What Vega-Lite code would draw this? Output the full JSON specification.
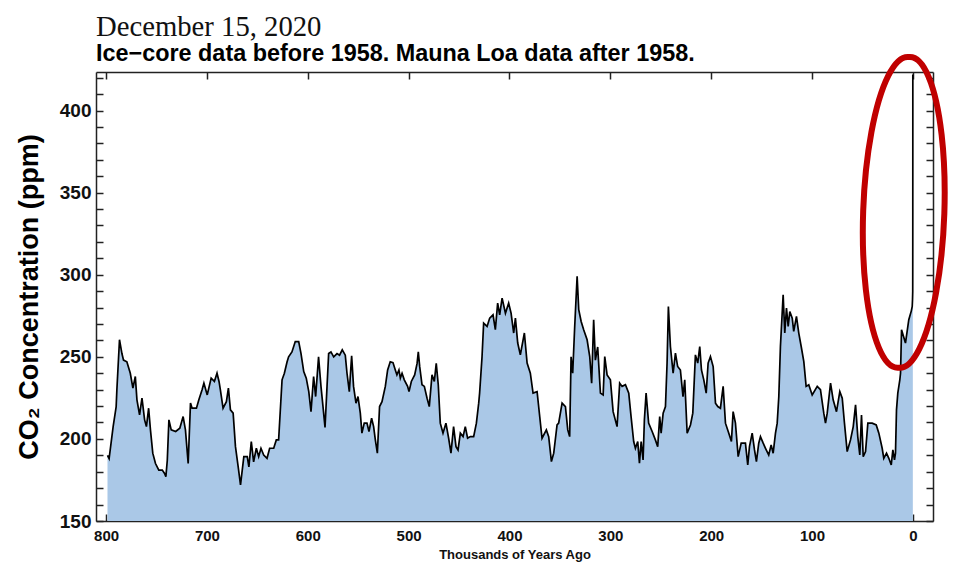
{
  "$schema": "https://vega.github.io/schema/vega-lite/v6.json",
  "width": 837,
  "height": 449,
  "autosize": "none",
  "padding": {"left": 96, "top": 72, "right": 22, "bottom": 46},
  "background": "white",
  "config": {"view": {"stroke": null}, "axis": {"grid": false}},
  "title": {
    "text": "December 15, 2020",
    "subtitle": "Ice−core data before 1958. Mauna Loa data after 1958.",
    "anchor": "start",
    "frame": "group",
    "font": "Liberation Serif",
    "fontSize": 28.7,
    "fontWeight": "normal",
    "color": "#111111",
    "subtitleFont": "Liberation Sans",
    "subtitleFontSize": 23.4,
    "subtitleFontWeight": "bold",
    "subtitleColor": "#000000",
    "subtitlePadding": 1,
    "offset": -20
  },
  "data": {"values": [
    {"kyr": 798.6, "co2": 190}, {"kyr": 797, "co2": 188}, {"kyr": 793, "co2": 207.5}, {"kyr": 790, "co2": 219.7}, {"kyr": 789.3, "co2": 230}, {"kyr": 786.7, "co2": 260.4}, {"kyr": 784.3, "co2": 252}, {"kyr": 782.7, "co2": 248}, {"kyr": 779.4, "co2": 247}, {"kyr": 776, "co2": 240}, {"kyr": 773.4, "co2": 231}, {"kyr": 771, "co2": 238}, {"kyr": 769.4, "co2": 223.8}, {"kyr": 766.8, "co2": 214.6}, {"kyr": 764.4, "co2": 224.8}, {"kyr": 761.8, "co2": 211.6}, {"kyr": 760, "co2": 207.5}, {"kyr": 757.8, "co2": 218.7}, {"kyr": 756, "co2": 205.5}, {"kyr": 753.7, "co2": 191.3}, {"kyr": 751, "co2": 185}, {"kyr": 747.7, "co2": 181}, {"kyr": 744.3, "co2": 181}, {"kyr": 742, "co2": 179}, {"kyr": 740.7, "co2": 177}, {"kyr": 739.3, "co2": 187}, {"kyr": 737.7, "co2": 211.6}, {"kyr": 735.4, "co2": 205.5}, {"kyr": 731, "co2": 204.5}, {"kyr": 726.9, "co2": 206.5}, {"kyr": 723.6, "co2": 213.6}, {"kyr": 721.3, "co2": 205.5}, {"kyr": 718.6, "co2": 185}, {"kyr": 716.3, "co2": 221.8}, {"kyr": 714.7, "co2": 218.7}, {"kyr": 710.4, "co2": 218.7}, {"kyr": 708, "co2": 223.8}, {"kyr": 704.8, "co2": 230}, {"kyr": 703, "co2": 234}, {"kyr": 699.7, "co2": 226.8}, {"kyr": 695.8, "co2": 237}, {"kyr": 692.6, "co2": 235}, {"kyr": 690, "co2": 240}, {"kyr": 688, "co2": 235}, {"kyr": 686.7, "co2": 230}, {"kyr": 684, "co2": 218.7}, {"kyr": 680.7, "co2": 222.7}, {"kyr": 678.7, "co2": 231}, {"kyr": 676.7, "co2": 217.7}, {"kyr": 674, "co2": 215.7}, {"kyr": 671.7, "co2": 195.3}, {"kyr": 669, "co2": 183}, {"kyr": 666.7, "co2": 172}, {"kyr": 663.4, "co2": 189.2}, {"kyr": 660, "co2": 189.2}, {"kyr": 658.4, "co2": 183}, {"kyr": 656, "co2": 198.4}, {"kyr": 653.7, "co2": 186}, {"kyr": 651, "co2": 194.3}, {"kyr": 648.7, "co2": 189.2}, {"kyr": 646.4, "co2": 194.3}, {"kyr": 643.7, "co2": 190.2}, {"kyr": 640.4, "co2": 188.2}, {"kyr": 637.8, "co2": 194.3}, {"kyr": 633.8, "co2": 194.3}, {"kyr": 631.2, "co2": 199.4}, {"kyr": 628.9, "co2": 199.4}, {"kyr": 625.5, "co2": 236}, {"kyr": 623.2, "co2": 240}, {"kyr": 620.5, "co2": 247},
    {"kyr": 619, "co2": 250}, {"kyr": 615.7, "co2": 253}, {"kyr": 612.4, "co2": 259.3}, {"kyr": 609, "co2": 259.3}, {"kyr": 606.7, "co2": 252}, {"kyr": 604, "co2": 241}, {"kyr": 601.5, "co2": 237}, {"kyr": 599, "co2": 228.8}, {"kyr": 596.8, "co2": 216.6}, {"kyr": 594.2, "co2": 238}, {"kyr": 592.2, "co2": 225.8}, {"kyr": 589.3, "co2": 250}, {"kyr": 586.9, "co2": 232}, {"kyr": 584.9, "co2": 219.7}, {"kyr": 582.9, "co2": 207}, {"kyr": 580.9, "co2": 232}, {"kyr": 579.3, "co2": 252}, {"kyr": 577, "co2": 253}, {"kyr": 574.3, "co2": 250}, {"kyr": 571, "co2": 252}, {"kyr": 568.5, "co2": 251}, {"kyr": 565.8, "co2": 254.3}, {"kyr": 562.8, "co2": 251}, {"kyr": 561.1, "co2": 240}, {"kyr": 558.8, "co2": 228.8}, {"kyr": 556.5, "co2": 250.6}, {"kyr": 554.6, "co2": 232}, {"kyr": 552.2, "co2": 221.8}, {"kyr": 550.2, "co2": 225.8}, {"kyr": 547.9, "co2": 215.7}, {"kyr": 546.3, "co2": 203.5}, {"kyr": 544, "co2": 209.6}, {"kyr": 541.3, "co2": 209.6}, {"kyr": 539.3, "co2": 204.5}, {"kyr": 536.7, "co2": 212.6}, {"kyr": 534.7, "co2": 207.5}, {"kyr": 533, "co2": 199.4}, {"kyr": 531, "co2": 191.3}, {"kyr": 528.8, "co2": 219.7}, {"kyr": 526.4, "co2": 222.7}, {"kyr": 523.1, "co2": 232}, {"kyr": 520.8, "co2": 242}, {"kyr": 518.2, "co2": 247}, {"kyr": 515.5, "co2": 246.5}, {"kyr": 513.2, "co2": 242}, {"kyr": 511.6, "co2": 239}, {"kyr": 509.6, "co2": 242}, {"kyr": 508.2, "co2": 237}, {"kyr": 506.5, "co2": 240}, {"kyr": 504.3, "co2": 236}, {"kyr": 501, "co2": 232}, {"kyr": 499.6, "co2": 228.8}, {"kyr": 497.3, "co2": 235}, {"kyr": 494, "co2": 239}, {"kyr": 491.6, "co2": 246}, {"kyr": 490.4, "co2": 253}, {"kyr": 489, "co2": 244}, {"kyr": 486.7, "co2": 233}, {"kyr": 484.4, "co2": 232}, {"kyr": 481.7, "co2": 224.8}, {"kyr": 479.5, "co2": 219.7}, {"kyr": 476.8, "co2": 239}, {"kyr": 474.5, "co2": 235}, {"kyr": 472.6, "co2": 246}, {"kyr": 470.6, "co2": 233}, {"kyr": 468.6, "co2": 209.6}, {"kyr": 465.9, "co2": 203.5}, {"kyr": 463, "co2": 209.6}, {"kyr": 460.3, "co2": 200.4}, {"kyr": 458, "co2": 191.3}, {"kyr": 455.4, "co2": 207.5}, {"kyr": 453, "co2": 195.3}, {"kyr": 451, "co2": 193.3}, {"kyr": 448.7, "co2": 203.5}, {"kyr": 446, "co2": 201.4}, {"kyr": 443.8, "co2": 207.5}, {"kyr": 441.5, "co2": 200.4}, {"kyr": 438.8, "co2": 201.4}, {"kyr": 435.5, "co2": 201.4}, {"kyr": 432.8, "co2": 209.6},
    {"kyr": 430.5, "co2": 221.8}, {"kyr": 429.6, "co2": 227.9}, {"kyr": 427.2, "co2": 250}, {"kyr": 425.6, "co2": 270.5}, {"kyr": 422.2, "co2": 268.5}, {"kyr": 419.6, "co2": 273.6}, {"kyr": 416.3, "co2": 275.6}, {"kyr": 414, "co2": 266.5}, {"kyr": 411.7, "co2": 282.7}, {"kyr": 409.7, "co2": 275.6}, {"kyr": 407.3, "co2": 285.8}, {"kyr": 404, "co2": 276.6}, {"kyr": 400.8, "co2": 282.7}, {"kyr": 398.4, "co2": 276.6}, {"kyr": 395.8, "co2": 264.5}, {"kyr": 394.1, "co2": 273.6}, {"kyr": 391.8, "co2": 258.4}, {"kyr": 389.2, "co2": 251.2}, {"kyr": 385.2, "co2": 264.5}, {"kyr": 382.5, "co2": 246.2}, {"kyr": 379.3, "co2": 240}, {"kyr": 376.6, "co2": 227.9}, {"kyr": 372.6, "co2": 228.8}, {"kyr": 367.7, "co2": 200.4}, {"kyr": 363.4, "co2": 205.5}, {"kyr": 361.1, "co2": 201.4}, {"kyr": 358.4, "co2": 186.2}, {"kyr": 356.1, "co2": 191.3}, {"kyr": 352.8, "co2": 208.5}, {"kyr": 351.2, "co2": 209.6}, {"kyr": 347.8, "co2": 221.8}, {"kyr": 344.5, "co2": 219.7}, {"kyr": 342.2, "co2": 205.5}, {"kyr": 340.3, "co2": 201.4}, {"kyr": 338.9, "co2": 250}, {"kyr": 337.3, "co2": 240}, {"kyr": 335.3, "co2": 268.5}, {"kyr": 332.9, "co2": 299}, {"kyr": 331.3, "co2": 278.7}, {"kyr": 328.9, "co2": 271.5}, {"kyr": 326.4, "co2": 266.5}, {"kyr": 323, "co2": 260.4}, {"kyr": 320.4, "co2": 250.2}, {"kyr": 318.5, "co2": 234}, {"kyr": 316.5, "co2": 272.6}, {"kyr": 314.8, "co2": 248}, {"kyr": 312.5, "co2": 256}, {"kyr": 309.8, "co2": 227.9}, {"kyr": 307.1, "co2": 226.8}, {"kyr": 305.5, "co2": 250.2}, {"kyr": 303.2, "co2": 239}, {"kyr": 299.9, "co2": 236}, {"kyr": 297.2, "co2": 216.6}, {"kyr": 293.3, "co2": 207.5}, {"kyr": 290.7, "co2": 234}, {"kyr": 288.3, "co2": 232}, {"kyr": 285, "co2": 233}, {"kyr": 281.7, "co2": 227.9}, {"kyr": 279.4, "co2": 213.6}, {"kyr": 276.8, "co2": 198.4}, {"kyr": 275.1, "co2": 194.3}, {"kyr": 272.8, "co2": 198.4}, {"kyr": 271.1, "co2": 185.2}, {"kyr": 269.4, "co2": 198.4}, {"kyr": 267.5, "co2": 187.2}, {"kyr": 266.2, "co2": 211.6}, {"kyr": 264.5, "co2": 227.9}, {"kyr": 262, "co2": 209.6}, {"kyr": 258.5, "co2": 204.5}, {"kyr": 255.3, "co2": 199.4}, {"kyr": 253, "co2": 195.3}, {"kyr": 251, "co2": 213.6}, {"kyr": 249.6, "co2": 203.5}, {"kyr": 247.6, "co2": 215.7}, {"kyr": 245.3, "co2": 219.7}, {"kyr": 243.7, "co2": 246.2}, {"kyr": 242.4, "co2": 280.7}, {"kyr": 240.4, "co2": 256.3}, {"kyr": 237.7, "co2": 240}, {"kyr": 235.4, "co2": 252.3}, {"kyr": 233.2, "co2": 244.1}, {"kyr": 230.5, "co2": 242}, {"kyr": 227.9, "co2": 225.8}, {"kyr": 226.2, "co2": 236}, {"kyr": 223.8, "co2": 203.5}, {"kyr": 220.5, "co2": 208.5}, {"kyr": 218.2, "co2": 215.7}, {"kyr": 215.6, "co2": 251.2}, {"kyr": 213.3, "co2": 246.2}, {"kyr": 211.3, "co2": 256.3}, {"kyr": 209.6, "co2": 242}, {"kyr": 207.3, "co2": 236}, {"kyr": 204.9, "co2": 227.9}, {"kyr": 203, "co2": 246.2}, {"kyr": 200.7, "co2": 250.2}, {"kyr": 198, "co2": 244.1}, {"kyr": 195.7, "co2": 221.8}, {"kyr": 193.4, "co2": 219.7}, {"kyr": 190.8, "co2": 218.7}, {"kyr": 188.1, "co2": 232}, {"kyr": 185.8, "co2": 209.6}, {"kyr": 182.5, "co2": 203.5}, {"kyr": 179.9, "co2": 198.4}, {"kyr": 178.2, "co2": 216.6}, {"kyr": 175.9, "co2": 209.6}, {"kyr": 173.2, "co2": 189.2}, {"kyr": 170.2, "co2": 197.4}, {"kyr": 166, "co2": 197.4}, {"kyr": 163.7, "co2": 184.1}, {"kyr": 162, "co2": 195.3}, {"kyr": 159.3, "co2": 203.5}, {"kyr": 157, "co2": 193.3}, {"kyr": 155.1, "co2": 186.2}, {"kyr": 152.8, "co2": 197.4}, {"kyr": 151.1, "co2": 201.4}, {"kyr": 148.4, "co2": 197.4}, {"kyr": 146.1, "co2": 194.3}, {"kyr": 142.9, "co2": 190.2}, {"kyr": 140.5, "co2": 196.3}, {"kyr": 138.5, "co2": 191.3}, {"kyr": 136.2, "co2": 203.5}, {"kyr": 134.5, "co2": 209.6}, {"kyr": 132.9, "co2": 225.8}, {"kyr": 131.3, "co2": 256.3}, {"kyr": 128.6, "co2": 287.8}, {"kyr": 127, "co2": 264.5}, {"kyr": 125.3, "co2": 279.7}, {"kyr": 123.6, "co2": 268.5}, {"kyr": 122, "co2": 277.6}, {"kyr": 119.6, "co2": 273.6}, {"kyr": 118.1, "co2": 265.5}, {"kyr": 115.4, "co2": 274.6}, {"kyr": 113.1, "co2": 264.5}, {"kyr": 110.7, "co2": 256.3}, {"kyr": 108.1, "co2": 247.1}, {"kyr": 105.8, "co2": 232},
    {"kyr": 103.2, "co2": 233}, {"kyr": 99.8, "co2": 226.8}, {"kyr": 94.8, "co2": 232}, {"kyr": 91.6, "co2": 230}, {"kyr": 88.3, "co2": 215.7}, {"kyr": 86.6, "co2": 209.6}, {"kyr": 84.9, "co2": 215.7}, {"kyr": 81.6, "co2": 234}, {"kyr": 79, "co2": 223.8}, {"kyr": 75.7, "co2": 216.6}, {"kyr": 72.4, "co2": 228.8}, {"kyr": 70, "co2": 224.8}, {"kyr": 67.8, "co2": 209.6}, {"kyr": 65.1, "co2": 192.3}, {"kyr": 61.8, "co2": 199.4}, {"kyr": 59.1, "co2": 207.5}, {"kyr": 56.8, "co2": 220.7}, {"kyr": 54.6, "co2": 201.4}, {"kyr": 52.6, "co2": 190.2}, {"kyr": 50.9, "co2": 214.6}, {"kyr": 49.2, "co2": 189.2}, {"kyr": 46.9, "co2": 192.3}, {"kyr": 44.6, "co2": 209.6}, {"kyr": 40.3, "co2": 209.6}, {"kyr": 36.3, "co2": 208.5}, {"kyr": 33.7, "co2": 203.5}, {"kyr": 30.4, "co2": 194.3}, {"kyr": 28.8, "co2": 188.2}, {"kyr": 26.1, "co2": 191.3}, {"kyr": 23.8, "co2": 188.2}, {"kyr": 21.4, "co2": 184.1}, {"kyr": 19.8, "co2": 193.3}, {"kyr": 18.2, "co2": 187.2}, {"kyr": 17.2, "co2": 191.3}, {"kyr": 16.2, "co2": 217.7}, {"kyr": 14.9, "co2": 227.9}, {"kyr": 12.9, "co2": 236}, {"kyr": 12.2, "co2": 240}, {"kyr": 11.2, "co2": 266.5}, {"kyr": 7.3, "co2": 258.4}, {"kyr": 4, "co2": 272.6}, {"kyr": 1.5, "co2": 278}, {"kyr": 0.6, "co2": 280.7}, {"kyr": 0.3, "co2": 285}, {"kyr": 0.1, "co2": 290}, {"kyr": 0.06, "co2": 315}, {"kyr": 0.03, "co2": 340}, {"kyr": 0.01, "co2": 380}, {"kyr": 0, "co2": 422}
  ]},
  "layer": [
    {
      "mark": {"type": "area", "color": "#aac8e7", "opacity": 1},
      "encoding": {
        "x": {"field": "kyr", "type": "quantitative",
          "scale": {"domain": [-20, 810], "reverse": true, "nice": false, "zero": false},
          "axis": {"orient": "bottom", "values": [0, 100, 200, 300, 400, 500, 600, 700, 800],
            "tickSize": -7, "tickColor": "#222222", "tickWidth": 1.5,
            "domainColor": "#222222", "domainWidth": 1.5,
            "labelFont": "Liberation Sans", "labelFontWeight": "bold", "labelFontSize": 15, "labelColor": "#111111",
            "labelPadding": 14, "labelFlush": false, "labelOverlap": false,
            "title": "Thousands of Years Ago", "titleFont": "Liberation Sans", "titleFontSize": 13,
            "titleFontWeight": "bold", "titleColor": "#111111", "titlePadding": 5}},
        "y": {"field": "co2", "type": "quantitative",
          "scale": {"domain": [150, 423.5], "nice": false, "zero": false},
          "axis": {"orient": "left",
            "values": [150, 160, 170, 180, 190, 200, 210, 220, 230, 240, 250, 260, 270, 280, 290, 300, 310, 320, 330, 340, 350, 360, 370, 380, 390, 400, 410, 420],
            "labelExpr": "datum.value % 50 === 0 ? datum.label : ''",
            "tickSize": -7, "tickColor": "#222222", "tickWidth": 1.5,
            "domainColor": "#222222", "domainWidth": 1.5,
            "labelFont": "Liberation Sans", "labelFontWeight": "bold", "labelFontSize": 19, "labelColor": "#111111",
            "labelPadding": 12, "labelFlush": false, "labelOverlap": false,
            "title": "CO₂ Concentration (ppm)", "titleFont": "Liberation Sans", "titleFontSize": 27,
            "titleFontWeight": "bold", "titleColor": "#000000", "titlePadding": 16}},
        "y2": {"datum": 150}
      }
    },
    {
      "mark": {"type": "line", "color": "#000000", "strokeWidth": 1.7},
      "encoding": {
        "x": {"field": "kyr", "type": "quantitative",
          "axis": {"orient": "top", "values": [0, 100, 200, 300, 400, 500, 600, 700, 800],
            "tickSize": -7, "tickColor": "#222222", "tickWidth": 1.5,
            "domainColor": "#222222", "domainWidth": 1.5, "labels": false, "title": null}},
        "y": {"field": "co2", "type": "quantitative",
          "axis": {"orient": "right",
            "values": [150, 160, 170, 180, 190, 200, 210, 220, 230, 240, 250, 260, 270, 280, 290, 300, 310, 320, 330, 340, 350, 360, 370, 380, 390, 400, 410, 420],
            "tickSize": -7, "tickColor": "#222222", "tickWidth": 1.5,
            "domainColor": "#222222", "domainWidth": 1.5, "labels": false, "title": null}}
      }
    },
    {
      "data": {"values": [{"kyr": 9, "co2": 338}]},
      "mark": {"type": "point", "shape": "M 0.035 -0.999 A 0.254 1 2 1 1 -0.035 0.999 A 0.254 1 2 1 1 0.035 -0.999 Z",
        "filled": false, "stroke": "#c00000", "strokeWidth": 6, "size": 96721, "opacity": 1},
      "encoding": {
        "x": {"field": "kyr", "type": "quantitative", "axis": null},
        "y": {"field": "co2", "type": "quantitative", "axis": null}
      }
    }
  ],
  "resolve": {"axis": {"x": "independent", "y": "independent"}}
}
